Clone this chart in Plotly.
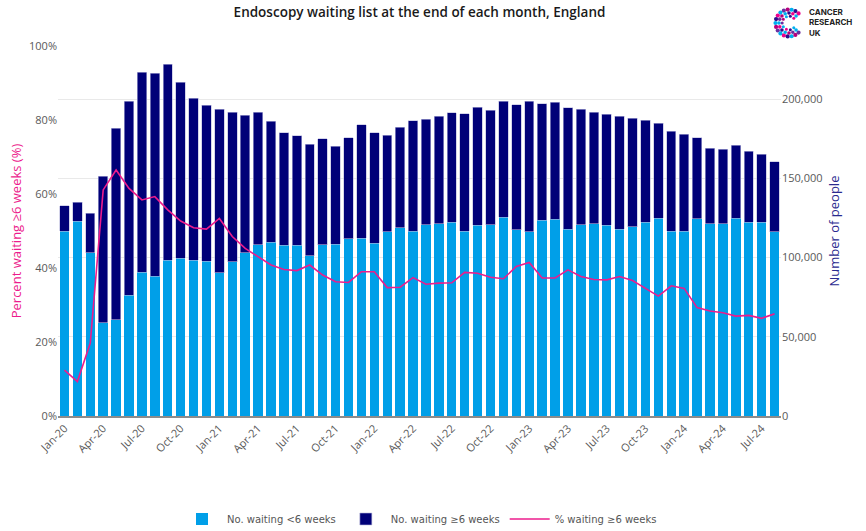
import math
import plotly.graph_objects as go

# Monthly endoscopy waiting list, England (Jan 2020 - Aug 2024)
months = [
    "Jan-20", "Feb-20", "Mar-20", "Apr-20", "May-20", "Jun-20", "Jul-20", "Aug-20", "Sep-20", "Oct-20", "Nov-20", "Dec-20",
    "Jan-21", "Feb-21", "Mar-21", "Apr-21", "May-21", "Jun-21", "Jul-21", "Aug-21", "Sep-21", "Oct-21", "Nov-21", "Dec-21",
    "Jan-22", "Feb-22", "Mar-22", "Apr-22", "May-22", "Jun-22", "Jul-22", "Aug-22", "Sep-22", "Oct-22", "Nov-22", "Dec-22",
    "Jan-23", "Feb-23", "Mar-23", "Apr-23", "May-23", "Jun-23", "Jul-23", "Aug-23", "Sep-23", "Oct-23", "Nov-23", "Dec-23",
    "Jan-24", "Feb-24", "Mar-24", "Apr-24", "May-24", "Jun-24", "Jul-24", "Aug-24",
]

# Patients waiting under 6 weeks
under_6wk = [
    116700, 123000, 103000, 58900, 60800, 76100, 90600, 88300, 98400, 99700, 98400, 97600,
    90400, 97200, 103000, 108000, 109800, 107700, 107700, 101200, 108000, 108500, 111900, 112300,
    109100, 116300, 118800, 116700, 120700, 121300, 122200, 116700, 120300, 120700, 125300, 117600,
    116300, 123500, 124100, 118000, 120700, 121300, 120300, 118000, 119400, 122200, 124900, 116700,
    116700, 124500, 121300, 121300, 124900, 122200, 122200, 116300,
]

# Patients waiting 6 weeks or more
over_6wk = [
    16000, 12000, 25000, 92500, 120700, 122600, 126200, 128100, 123600, 110800, 102200, 98400,
    103300, 94600, 86900, 83800, 76100, 71000, 69300, 70200, 67000, 61800, 63700, 71500,
    69600, 60800, 63300, 69600, 66500, 67800, 69200, 74000, 74700, 72300, 73400, 78800,
    82400, 73600, 73800, 76500, 72800, 70500, 70000, 71100, 68600, 64500, 60000, 63100,
    61200, 51100, 47600, 47000, 46100, 45000, 43100, 44000,
]

# Share of the list waiting 6 weeks or more (%)
pct_over_6wk = [
    12.4, 9.3, 19.7, 61.1, 66.5, 61.5, 58.4, 59.3, 55.7, 52.7, 50.9, 50.5,
    53.4, 48.5, 45.3, 43.1, 40.8, 39.6, 39.3, 40.8, 38.1, 36.3, 36.1, 39.0,
    39.0, 34.7, 34.8, 37.4, 35.6, 35.9, 36.0, 38.8, 38.6, 37.5, 37.1, 40.4,
    41.5, 37.3, 37.3, 39.5, 37.7, 36.9, 36.8, 37.7, 36.6, 34.5, 32.4, 35.2,
    34.5, 29.3, 28.4, 27.9, 27.0, 27.2, 26.4, 27.6,
]

tick_labels = months[::3]
pct_ticks = [0, 20, 40, 60, 80, 100]
count_ticks = [0, 50000, 100000, 150000, 200000]

LIGHT = "#009fe8"
NAVY = "#000078"
PINK = "#ec1c8c"
TICK_FONT = dict(family="Open Sans", size=11, color="#595959")

W, H = 866, 531
L, R, T, B = 58, 85, 46, 115

fig = go.Figure()
# Bars sit on the primary (right-hand, counts) axis so the percentage line,
# on the overlaying axis, is drawn above them.
fig.add_trace(go.Bar(
    x=months, y=under_6wk, name="No. waiting <6 weeks",
    marker=dict(color=LIGHT, line=dict(width=0)), yaxis="y",
))
fig.add_trace(go.Bar(
    x=months, y=over_6wk, name="No. waiting \u22656 weeks",
    marker=dict(color=NAVY, line=dict(width=0.6, color="#b8b8dc")), yaxis="y",
))
fig.add_trace(go.Scatter(
    x=months, y=pct_over_6wk, name="% waiting \u22656 weeks",
    mode="lines", line=dict(color=PINK, width=1.6), yaxis="y2",
))

# Cancer Research UK mark: a "C" built from coloured dots, plus wordmark
pw, ph = W - L - R, H - T - B
def px(xp):
    return (xp - L) / pw
def py(yp):
    return (H - B - yp) / ph

dot_colours = ["#ec008c", "#2e0a8c", "#00aeef", "#b4007c", "#6b2fa0", "#00aeef"]
shapes = []
cx, cy = 789, 23
k = 0
for ring_r, dot_r, n in [(13.5, 2.1, 17), (10.0, 1.8, 13), (6.8, 1.5, 9)]:
    for i in range(n):
        a = math.radians(45 + i * (270 / (n - 1)))
        x0 = cx + ring_r * math.cos(a)
        y0 = cy - ring_r * math.sin(a)
        shapes.append(dict(
            type="circle", xref="paper", yref="paper",
            x0=px(x0 - dot_r), x1=px(x0 + dot_r),
            y0=py(y0 + dot_r), y1=py(y0 - dot_r),
            fillcolor=dot_colours[k % len(dot_colours)], line=dict(width=0),
        ))
        k += 1

fig.update_layout(
    width=W, height=H,
    margin=dict(l=L, r=R, t=T, b=B, autoexpand=False),
    paper_bgcolor="white", plot_bgcolor="white",
    barmode="stack", bargap=0.27,
    title=dict(
        text="Endoscopy waiting list at the end of each month, England",
        x=0.5, xanchor="center", xref="paper", y=1 - 12 / H, yanchor="middle",
        font=dict(family="Open Sans", size=13.5, color="#1a1a1a", weight=600),
    ),
    xaxis=dict(
        type="category", tickmode="array", tickvals=tick_labels, ticktext=tick_labels,
        tickangle=-45, tickfont=TICK_FONT, showgrid=False, automargin=False,
        showline=True, linecolor="#8c8c8c", linewidth=1.5, ticks="",
    ),
    yaxis=dict(
        side="right", range=[0, 233500], automargin=False,
        tickmode="array", tickvals=count_ticks, ticktext=[f"{v:,}" for v in count_ticks],
        tickfont=TICK_FONT, showgrid=True, gridcolor="#e9e9e9", gridwidth=1, zeroline=False,
        title=dict(text="Number of people", font=dict(family="Open Sans", size=13, color="#2a2a8f"), standoff=8),
    ),
    yaxis2=dict(
        overlaying="y", side="left", range=[0, 100], automargin=False,
        tickmode="array", tickvals=pct_ticks, ticktext=[f"{v}%" for v in pct_ticks],
        tickfont=TICK_FONT, showgrid=False, zeroline=False,
        title=dict(text="Percent waiting \u22656 weeks (%)", font=dict(family="Open Sans", size=13, color=PINK), standoff=4),
    ),
    legend=dict(
        orientation="h", x=0.5, xanchor="center", y=py(519), yanchor="middle",
        font=dict(family="DejaVu Sans", size=10, color="#555555"),
        itemwidth=40, traceorder="normal",
    ),
    shapes=shapes,
    annotations=[dict(
        text="<b>CANCER<br>RESEARCH<br>UK</b>", xref="paper", yref="paper",
        x=px(807), y=py(22), xanchor="left", yanchor="middle", align="left", showarrow=False,
        font=dict(family="Inter", size=8, color="#222222"),
    )],
)

fig.write_html("out.html")
